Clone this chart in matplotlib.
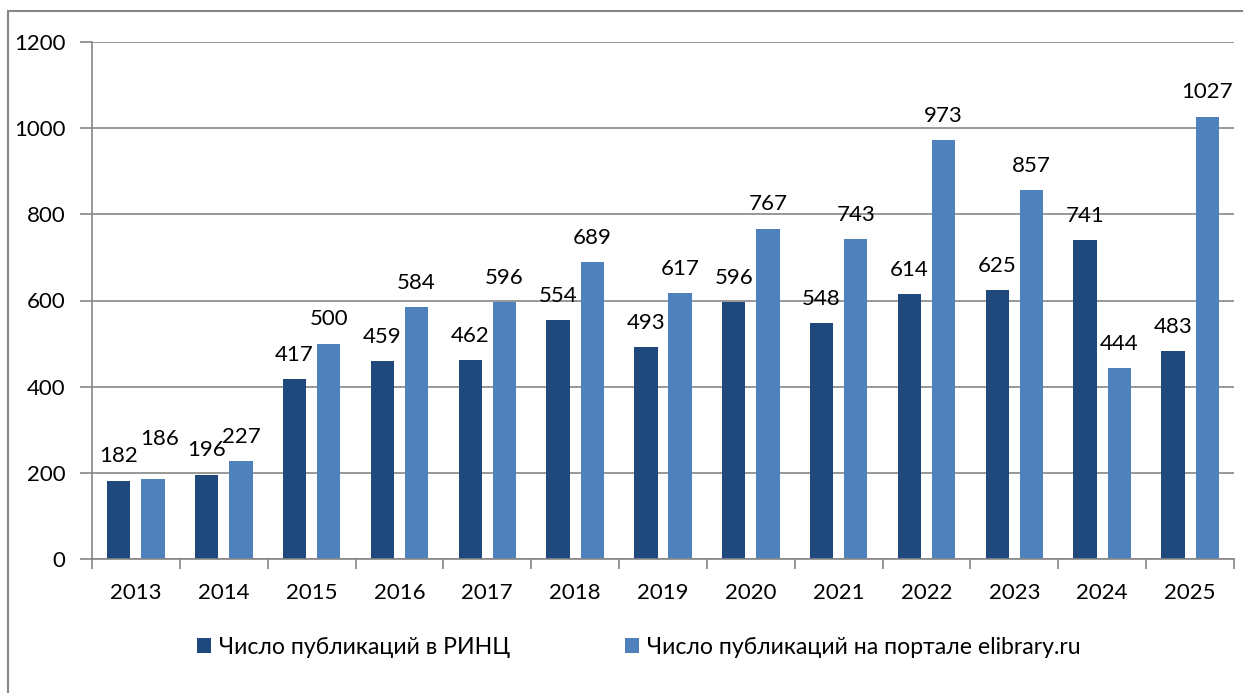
import numpy as np
import matplotlib.pyplot as plt
from matplotlib.patches import Rectangle

plt.rcParams['font.family'] = ['Lato', 'DejaVu Sans']

# Данные
years = ['2013', '2014', '2015', '2016', '2017', '2018', '2019',
         '2020', '2021', '2022', '2023', '2024', '2025']
rinc = [182, 196, 417, 459, 462, 554, 493, 596, 548, 614, 625, 741, 483]
elib = [186, 227, 500, 584, 596, 689, 617, 767, 743, 973, 857, 444, 1027]

dark = '#1F497D'
light = '#4F81BD'
grid_c = '#868686'

fig = plt.figure(figsize=(12.43, 6.93), dpi=100)
ax = fig.add_axes([92 / 1243, 1 - 559 / 693, (1234 - 92) / 1243, (559 - 42) / 693])

x = np.arange(len(years))
w = 0.265
off = 0.195
b1 = ax.bar(x - off, rinc, w, color=dark, label='Число публикаций в РИНЦ')
b2 = ax.bar(x + off, elib, w, color=light, label='Число публикаций на портале elibrary.ru')

for bars, vals in ((b1, rinc), (b2, elib)):
    for r, v in zip(bars, vals):
        ax.text(r.get_x() + r.get_width() / 2, v + 42, str(v),
                ha='center', va='baseline', fontsize=16)

# подпись 186 в оригинале сдвинута вверх, чтобы не налезать на 182
lbl = ax.texts[len(rinc)]
lbl.set_position((b2[0].get_x() + b2[0].get_width() / 2 + 0.07, elib[0] + 78))

ax.set_xlim(-0.5, len(years) - 0.5)
ax.set_ylim(0, 1200)
ax.set_yticks(range(0, 1201, 200))
ax.yaxis.grid(True, color=grid_c, linewidth=1.2)
ax.set_axisbelow(True)

ax.set_xticks(x)
ax.set_xticklabels(years)
ax.set_xticks(np.arange(-0.5, len(years)), minor=True)
ax.tick_params(axis='x', which='major', length=0, pad=17, labelsize=16)
ax.tick_params(axis='x', which='minor', length=7, width=1.2, color=grid_c)
ax.tick_params(axis='y', length=9, width=1.2, color=grid_c, pad=10, labelsize=16)

for s in ('top', 'right'):
    ax.spines[s].set_visible(False)
for s in ('left', 'bottom'):
    ax.spines[s].set_color(grid_c)
    ax.spines[s].set_linewidth(1.2)

fig.legend(handles=[b1, b2], loc='center', bbox_to_anchor=(0.514, 1 - 647 / 693),
           ncol=2, frameon=False, fontsize=16.6, handlelength=0.6, handleheight=0.6,
           handletextpad=0.35, columnspacing=5.0)

# рамка вокруг диаграммы
fig.patches.append(Rectangle((8 / 1243, -0.1), 1.2, 1 - 11 / 693 + 0.1,
                             transform=fig.transFigure, fill=False,
                             edgecolor=grid_c, linewidth=1.5))

fig.savefig('out.png', dpi=100)
